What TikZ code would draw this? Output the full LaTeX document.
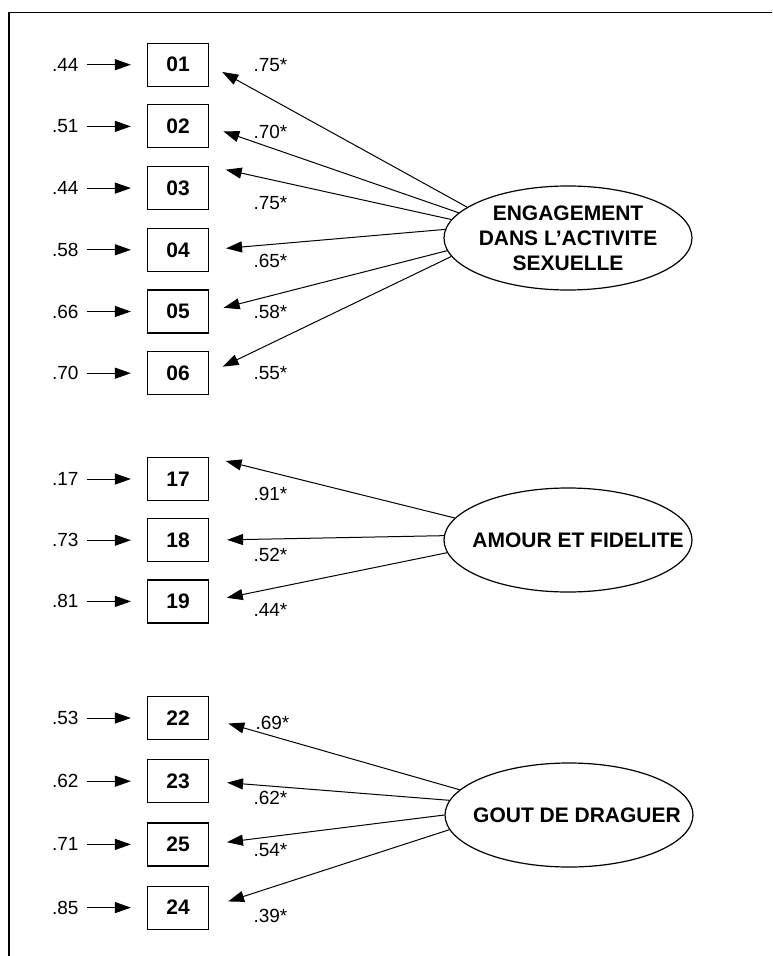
\documentclass[tikz,border=0pt]{standalone}
\usepackage{fontspec}
\setmainfont{Liberation Sans}
\usetikzlibrary{positioning,shapes.geometric,arrows.meta}

\tikzset{item/.style={draw, line width=0.6pt, minimum width=30.5pt, minimum height=21.5pt, inner sep=0pt, font=\fontsize{10.5}{12}\selectfont\bfseries}}
\tikzset{err/.style={inner sep=0pt, font=\fontsize{9.5}{11}\selectfont}}
\tikzset{coef/.style={err, anchor=west}}
\tikzset{latent/.style={draw, ellipse, line width=0.6pt, minimum width=124pt, minimum height=52pt, inner sep=0pt}}
\tikzset{lat/.style={inner sep=0pt, font=\fontsize{10.5}{12.6}\selectfont\bfseries, align=center}}
\tikzset{tip/.style={-{Triangle[length=8pt,width=5.5pt]}, line width=0.5pt}}

\begin{document}
\begin{tikzpicture}[x=0.5pt, y=-0.5pt, node distance={8.75pt and 34pt}]
    \useasboundingbox (0,0) rectangle (772,956);
    \draw[line width=0.8pt] (9,956) -- (9,12.7) -- (772,12.7);

    % first factor
    \node[item] (b01) at (178,64.7) {01};
    \node[item] (b02) [below=of b01] {02};
    \node[item] (b03) [below=of b02] {03};
    \node[item] (b04) [below=of b03] {04};
    \node[item] (b05) [below=of b04] {05};
    \node[item] (b06) [below=of b05] {06};
    \node[latent, label={[lat]center:ENGAGEMENT\\DANS L'ACTIVITE\\SEXUELLE}] (eng) at (568,238) {};

    \node[err] (e01) [left=of b01] {.44};
    \node[err] (e02) [left=of b02] {.51};
    \node[err] (e03) [left=of b03] {.44};
    \node[err] (e04) [left=of b04] {.58};
    \node[err] (e05) [left=of b05] {.66};
    \node[err] (e06) [left=of b06] {.70};

    \node[coef] (c01) [right=22pt of b01] {.75*};
    \node[coef] (c02) [right=22pt of b02, yshift=-3pt] {.70*};
    \node[coef] (c03) [right=22pt of b03, yshift=-7.5pt] {.75*};
    \node[coef] (c04) [right=22pt of b04, yshift=-5.5pt] {.65*};
    \node[coef] (c05) [right=22pt of b05] {.58*};
    \node[coef] (c06) [right=22pt of b06] {.55*};

    \draw[tip, shorten <=4pt, shorten >=8pt] (e01) -- (b01);
    \draw[tip, shorten <=4pt, shorten >=8pt] (e02) -- (b02);
    \draw[tip, shorten <=4pt, shorten >=8pt] (e03) -- (b03);
    \draw[tip, shorten <=4pt, shorten >=8pt] (e04) -- (b04);
    \draw[tip, shorten <=4pt, shorten >=8pt] (e05) -- (b05);
    \draw[tip, shorten <=4pt, shorten >=8pt] (e06) -- (b06);

    \draw[tip, shorten >=7.5pt] (eng.163) -- (b01.east);
    \draw[tip, shorten >=7.5pt] (eng.167) -- (b02.east);
    \draw[tip, shorten >=8.5pt] (eng.171) -- (b03.north east);
    \draw[tip, shorten >=8.5pt] (eng.176) -- (b04.east);
    \draw[tip, shorten >=7.5pt] (eng.186) -- (b05.east);
    \draw[tip, shorten >=7.5pt] (eng.189) -- (b06.east);

    % second factor
    \node[item] (b17) at (178,479) {17};
    \node[item] (b18) [below=8.5pt of b17] {18};
    \node[item] (b19) [below=8.5pt of b18] {19};
    \node[latent, label={[lat, xshift=5pt]center:AMOUR ET FIDELITE}] (amo) at (568,540) {};

    \node[err] (e17) [left=of b17] {.17};
    \node[err] (e18) [left=of b18] {.73};
    \node[err] (e19) [left=of b19] {.81};

    \node[coef] (c17) [right=22pt of b17, yshift=-7.5pt] {.91*};
    \node[coef] (c18) [right=22pt of b18, yshift=-7.5pt] {.52*};
    \node[coef] (c19) [right=22pt of b19, yshift=-4.5pt] {.44*};

    \draw[tip, shorten <=4pt, shorten >=8pt] (e17) -- (b17);
    \draw[tip, shorten <=4pt, shorten >=8pt] (e18) -- (b18);
    \draw[tip, shorten <=4pt, shorten >=8pt] (e19) -- (b19);

    \draw[tip, shorten >=8.5pt] (amo.169) -- (b17.north east);
    \draw[tip, shorten >=9pt] (amo.178) -- (b18.east);
    \draw[tip, shorten >=9pt] (amo.186) -- (b19.east);

    % third factor
    \node[item] (b22) at (178,718) {22};
    \node[item] (b23) [below=9.5pt of b22] {23};
    \node[item] (b25) [below=9.5pt of b23] {25};
    \node[item] (b24) [below=9.5pt of b25] {24};
    \node[latent, label={[lat, xshift=4pt]center:GOUT DE DRAGUER}] (gou) at (569,815) {};

    \node[err] (e22) [left=of b22] {.53};
    \node[err] (e23) [left=of b23] {.62};
    \node[err] (e25) [left=of b25] {.71};
    \node[err] (e24) [left=of b24] {.85};

    \node[coef] (c22) [right=23pt of b22, yshift=-2.5pt] {.69*};
    \node[coef] (c23) [right=22pt of b23, yshift=-8.5pt] {.62*};
    \node[coef] (c25) [right=22pt of b25, yshift=-3pt] {.54*};
    \node[coef] (c24) [right=22pt of b24, yshift=-4pt] {.39*};

    \draw[tip, shorten <=4pt, shorten >=8pt] (e22) -- (b22);
    \draw[tip, shorten <=4pt, shorten >=8pt] (e23) -- (b23);
    \draw[tip, shorten <=4pt, shorten >=8pt] (e25) -- (b25);
    \draw[tip, shorten <=4pt, shorten >=8pt] (e24) -- (b24);

    \draw[tip, shorten >=10pt] (gou.167) -- (b22.east);
    \draw[tip, shorten >=9pt] (gou.173) -- (b23.east);
    \draw[tip, shorten >=9pt] (gou.180) -- (b25.east);
    \draw[tip, shorten >=10pt] (gou.187) -- (b24.east);
\end{tikzpicture}
\end{document}
